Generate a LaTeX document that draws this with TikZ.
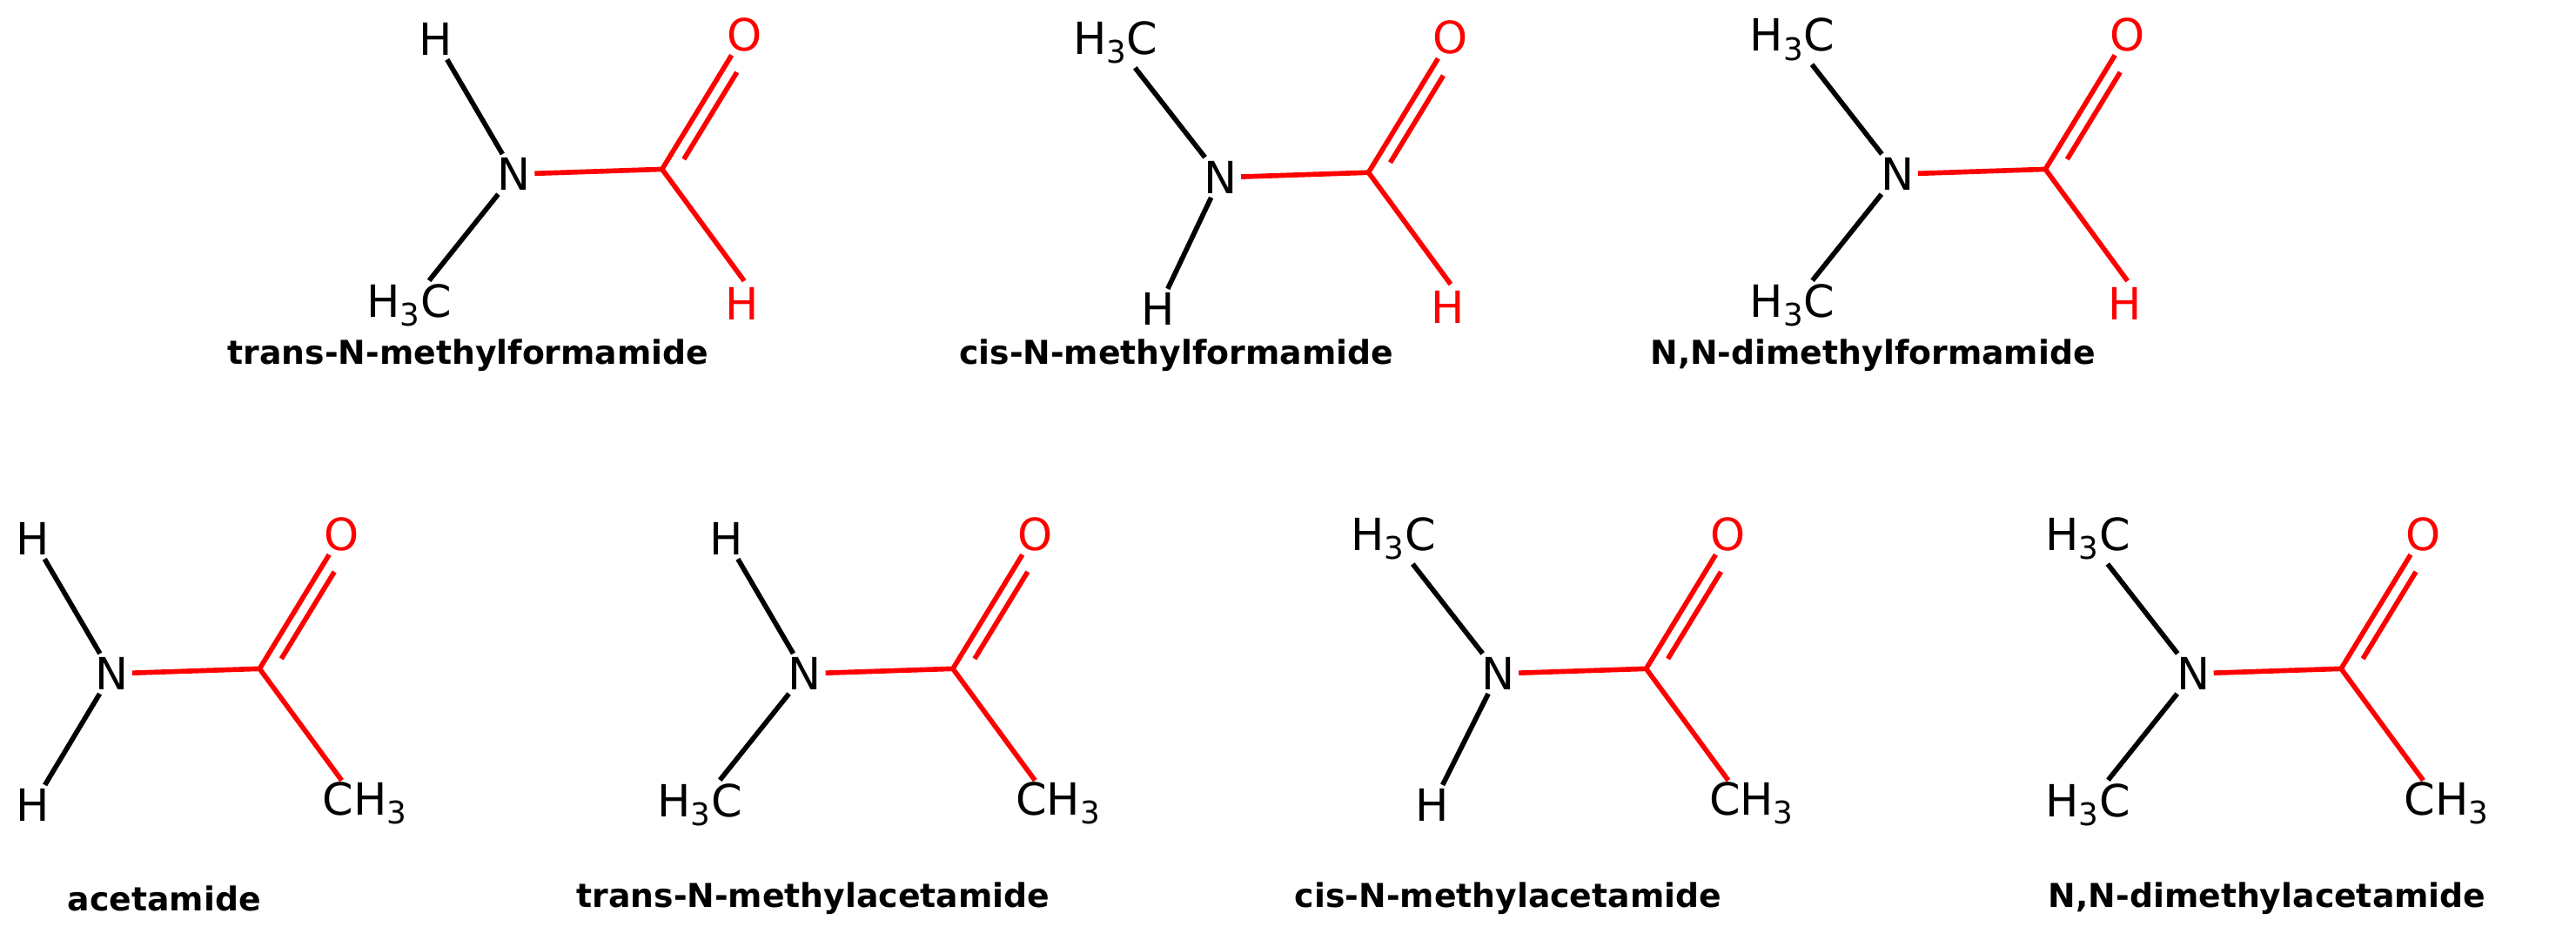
\documentclass[tikz,border=0pt]{standalone}
\usepackage{fontspec}
\setmainfont{DejaVu Sans}
\usetikzlibrary{calc}
\tikzset{every picture/.style={line width=0.75pt}}
\tikzset{
  atom/.style={inner sep=2pt,font=\fontsize{27}{30}\selectfont},
  bond/.style={line width=3pt},
  molname/.style={inner sep=0pt,font=\fontsize{20}{24}\selectfont\bfseries},
}
% #1 x, #2 y, #3 prefix, #4 upper opts, #5 upper text, #6 lower opts, #7 lower text, #8 right colour, #9 right text
\newcommand\amide[9]{%
  \node[atom] (#3N) at (#1,#2) {N};
  \coordinate (#3C) at ($(#3N)+(90,-3)$);
  \node[atom,red] (#3O) at ($(#3C)+(50,-82)$) {O};
  \node[atom,#4] (#3U) at ($(#3N)+(-48,-82)$) {#5};
  \node[atom,#6] (#3L) at ($(#3N)+(-48,80)$) {#7};
  \node[atom,#8,anchor=west] (#3R) at ($(#3C)+(36,82)$) {#9};
  \draw[bond] (#3U) -- (#3N);
  \draw[bond] (#3L) -- (#3N);
  \draw[bond,red] (#3N) -- (#3C) -- (#3O);
  \draw[bond,red,shorten <=12pt,shorten >=22pt] ($(#3C)+(7,4.2)$) -- ($(#3O.center)+(7,4.2)$);
  \draw[bond,red] (#3C) -- ($(#3R.west)+(14,-14)$);
}
\newcommand\methyl{H\textsubscript{3}C}
\newcommand\methylr{CH\textsubscript{3}}

\begin{document}
\begin{tikzpicture}[x=1pt,y=-1pt]
\useasboundingbox (0,0) rectangle (1568,572);

% formamides
\amide{313}{106}{a}{}{H}{xshift=-16}{\methyl}{red}{H}
\amide{743}{108}{b}{xshift=-16}{\methyl}{xshift=10}{H}{red}{H}
\amide{1155}{106}{c}{xshift=-16}{\methyl}{xshift=-16}{\methyl}{red}{H}

% acetamides
\amide{68}{410}{d}{}{H}{}{H}{black}{\methylr}
\amide{490}{410}{e}{}{H}{xshift=-16}{\methyl}{black}{\methylr}
\amide{912}{410}{f}{xshift=-16}{\methyl}{xshift=8}{H}{black}{\methylr}
\amide{1335}{410}{g}{xshift=-16}{\methyl}{xshift=-16}{\methyl}{black}{\methylr}

% Text Node
\node[molname] (la) at (285,216) {trans-N-methylformamide};
\node[molname] (lb) at (716,216) {cis-N-methylformamide};
\node[molname] (lc) at (1140,216) {N,N-dimethylformamide};
\node[molname] (ld) at (100,547) {acetamide};
\node[molname] (le) at (495,547) {trans-N-methylacetamide};
\node[molname] (lf) at (918,547) {cis-N-methylacetamide};
\node[molname] (lg) at (1380,547) {N,N-dimethylacetamide};
\end{tikzpicture}
\end{document}
